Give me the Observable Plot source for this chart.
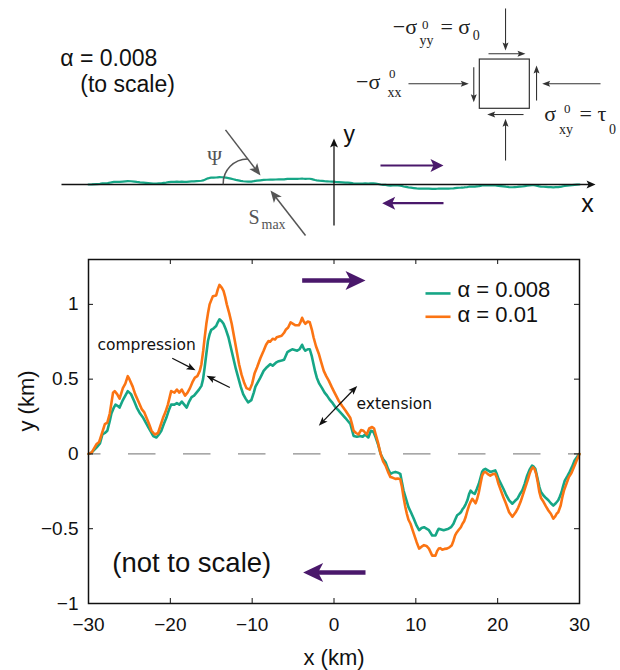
<!DOCTYPE html>
<html><head><meta charset="utf-8">
<script src="https://cdn.jsdelivr.net/npm/d3@7"></script>
<script src="https://cdn.jsdelivr.net/npm/@observablehq/plot@0.6"></script>
<style>body{margin:0;background:#fff} #chart svg{display:block}</style>
</head><body><div id="chart"></div>
<script>
const GREEN = "#16a686", ORANGE = "#fb7413", PURPLE = "#4a186b", GRAY = "#555", DARK = "#333";
const SANS = "Liberation Sans, Arial, Helvetica, sans-serif";
const SERIF = "Liberation Serif, Times New Roman, serif";
const ROUND = "DejaVu Sans, sans-serif";

// ---- data (km) ----
const xTicks = [-30, -20, -10, 0, 10, 20, 30];
const yTicks = [-1, -0.5, 0, 0.5, 1];
const seriesLabels = ["α = 0.008", "α = 0.01"];

const greenX = [-30,-29.6,-29,-28.6,-28.3,-28,-27.7,-27.4,-27.2,-26.9,-26.7,-26.4,-26.2,-25.8,-25.5,-25.2,-24.8,-24.4,-24.1,-23.7,-23.3,-23,-22.7,-22.4,-22.1,-21.7,-21.4,-21.1,-20.8,-20.5,-20.2,-19.9,-19.5,-19.2,-18.9,-18.6,-18.3,-18,-17.7,-17.4,-17.1,-16.8,-16.5,-16.2,-16,-15.8,-15.6,-15.4,-15.2,-15,-14.7,-14.4,-14.2,-14,-13.7,-13.5,-13.2,-12.9,-12.6,-12.3,-12,-11.7,-11.4,-11.1,-10.8,-10.5,-10.1,-9.8,-9.6,-9.4,-9,-8.6,-8.2,-7.8,-7.5,-7.1,-6.75,-6.4,-6.1,-5.7,-5.4,-5.1,-4.8,-4.5,-4.2,-3.9,-3.7,-3.5,-3.2,-2.96,-2.7,-2.5,-2.3,-2.1,-1.8,-1.46,-1.15,-0.85,-0.55,-0.24,0.2,0.58,1,1.4,1.7,2,2.2,2.4,2.8,3.2,3.5,3.8,4.2,4.5,4.8,5.1,5.4,5.7,6,6.3,6.6,6.9,7.2,7.5,7.8,8.1,8.3,8.5,8.8,9.1,9.4,9.75,10.1,10.4,10.7,11,11.3,11.6,12,12.4,12.6,12.8,13.1,13.4,13.7,14,14.3,14.6,14.8,15.05,15.3,15.5,15.7,15.9,16.1,16.3,16.5,16.7,16.95,17.2,17.45,17.7,17.9,18.1,18.3,18.5,18.8,19.1,19.4,19.7,19.9,20.1,20.4,20.7,21,21.4,21.8,22.1,22.4,22.7,23,23.3,23.6,23.9,24.2,24.4,24.6,24.85,25.1,25.3,25.6,25.9,26.2,26.5,26.8,27.1,27.4,27.6,27.8,28,28.2,28.5,28.8,29.1,29.4,29.7,30];
const greenY = [0,0.01,0.044,0.07,0.13,0.14,0.155,0.22,0.27,0.31,0.33,0.32,0.31,0.36,0.39,0.42,0.4,0.35,0.31,0.27,0.24,0.21,0.18,0.15,0.12,0.11,0.13,0.155,0.2,0.24,0.29,0.33,0.33,0.34,0.33,0.35,0.33,0.31,0.35,0.38,0.39,0.41,0.43,0.455,0.5,0.58,0.67,0.755,0.8,0.83,0.84,0.855,0.88,0.9,0.885,0.87,0.83,0.78,0.71,0.64,0.57,0.51,0.45,0.4,0.37,0.345,0.36,0.41,0.45,0.47,0.51,0.555,0.58,0.6,0.59,0.61,0.62,0.625,0.63,0.68,0.69,0.7,0.695,0.69,0.7,0.73,0.705,0.69,0.7,0.7,0.65,0.6,0.55,0.51,0.47,0.44,0.41,0.39,0.365,0.345,0.31,0.29,0.265,0.24,0.22,0.2,0.16,0.12,0.115,0.12,0.115,0.13,0.11,0.155,0.15,0.11,0.06,0,-0.035,-0.056,-0.1,-0.133,-0.125,-0.12,-0.125,-0.133,-0.19,-0.245,-0.3,-0.356,-0.39,-0.433,-0.48,-0.51,-0.495,-0.49,-0.5,-0.51,-0.545,-0.545,-0.52,-0.5,-0.505,-0.51,-0.505,-0.5,-0.49,-0.467,-0.44,-0.41,-0.4,-0.39,-0.37,-0.356,-0.335,-0.31,-0.27,-0.245,-0.26,-0.267,-0.235,-0.2,-0.16,-0.12,-0.105,-0.1,-0.11,-0.12,-0.115,-0.11,-0.135,-0.167,-0.2,-0.233,-0.27,-0.31,-0.333,-0.315,-0.3,-0.27,-0.245,-0.2,-0.145,-0.105,-0.078,-0.085,-0.1,-0.16,-0.222,-0.255,-0.278,-0.295,-0.31,-0.33,-0.345,-0.33,-0.31,-0.285,-0.256,-0.215,-0.178,-0.15,-0.12,-0.085,-0.044,-0.02,0];

const orangeX = [-30,-29.6,-29,-28.7,-28.4,-28,-27.7,-27.4,-27,-26.8,-26.5,-26.2,-25.8,-25.5,-25.2,-25,-24.6,-24.3,-23.9,-23.5,-23.2,-22.9,-22.6,-22.3,-21.9,-21.5,-21.2,-20.9,-20.6,-20.3,-19.9,-19.5,-19.2,-18.9,-18.6,-18.2,-17.9,-17.6,-17.3,-17,-16.7,-16.4,-16.2,-15.98,-15.8,-15.6,-15.4,-15.2,-14.8,-14.4,-14.2,-14,-13.7,-13.5,-13.3,-13.1,-12.8,-12.5,-12.2,-11.9,-11.6,-11.3,-11,-10.7,-10.3,-10,-9.7,-9.4,-9,-8.6,-8.3,-8,-7.8,-7.5,-7.2,-7,-6.7,-6.4,-6.1,-5.9,-5.6,-5.3,-5,-4.7,-4.3,-4.1,-3.9,-3.7,-3.5,-3.2,-2.96,-2.7,-2.5,-2.2,-1.86,-1.55,-1.25,-0.95,-0.64,-0.3,-0.03,0.3,0.58,1,1.4,1.7,2,2.2,2.4,2.7,3,3.3,3.6,4,4.3,4.66,4.9,5.1,5.4,5.7,6,6.3,6.6,6.9,7.2,7.5,7.8,8.1,8.3,8.5,8.7,8.9,9.1,9.35,9.75,10.1,10.4,10.7,11,11.3,11.6,12,12.4,12.6,12.8,13,13.2,13.5,13.8,14.1,14.4,14.6,14.8,15,15.2,15.5,15.7,15.9,16.1,16.3,16.5,16.7,16.9,17.1,17.3,17.5,17.7,17.9,18.1,18.3,18.5,18.8,19.1,19.4,19.7,19.9,20.1,20.4,20.7,21,21.4,21.8,22.2,22.5,22.8,23.1,23.4,23.7,23.9,24.1,24.3,24.5,24.7,24.9,25.1,25.3,25.6,25.9,26.2,26.5,26.8,27,27.2,27.4,27.7,27.9,28.1,28.4,28.7,29,29.3,29.6,30];
const orangeY = [0,0.01,0.067,0.08,0.13,0.2,0.21,0.27,0.41,0.42,0.4,0.37,0.44,0.47,0.52,0.5,0.45,0.4,0.35,0.3,0.28,0.24,0.2,0.155,0.13,0.14,0.19,0.24,0.28,0.33,0.42,0.41,0.43,0.41,0.43,0.39,0.41,0.44,0.48,0.51,0.52,0.555,0.6,0.69,0.78,0.87,0.94,1,1.055,1.06,1.1,1.13,1.11,1.09,1.05,1,0.94,0.87,0.78,0.69,0.6,0.53,0.48,0.44,0.43,0.47,0.54,0.58,0.64,0.69,0.73,0.755,0.75,0.77,0.765,0.78,0.785,0.79,0.81,0.83,0.845,0.88,0.87,0.86,0.86,0.88,0.91,0.885,0.87,0.885,0.88,0.83,0.78,0.72,0.67,0.61,0.555,0.52,0.49,0.45,0.42,0.385,0.355,0.32,0.29,0.265,0.24,0.2,0.155,0.14,0.13,0.16,0.155,0.13,0.17,0.18,0.17,0.13,0.07,0,-0.05,-0.078,-0.12,-0.155,-0.16,-0.167,-0.165,-0.17,-0.22,-0.29,-0.35,-0.4,-0.44,-0.467,-0.533,-0.59,-0.633,-0.62,-0.61,-0.615,-0.633,-0.68,-0.68,-0.65,-0.633,-0.63,-0.64,-0.635,-0.633,-0.625,-0.61,-0.58,-0.545,-0.525,-0.51,-0.49,-0.467,-0.45,-0.42,-0.38,-0.345,-0.32,-0.3,-0.315,-0.33,-0.3,-0.256,-0.2,-0.145,-0.125,-0.12,-0.135,-0.145,-0.135,-0.133,-0.16,-0.2,-0.245,-0.29,-0.33,-0.39,-0.42,-0.39,-0.36,-0.32,-0.27,-0.22,-0.17,-0.133,-0.105,-0.09,-0.1,-0.133,-0.19,-0.256,-0.295,-0.32,-0.35,-0.378,-0.4,-0.433,-0.42,-0.4,-0.39,-0.345,-0.29,-0.245,-0.2,-0.155,-0.13,-0.09,-0.05,0];

// ---- schematic (top panel, km at true scale) ----
const axesArrows = [
  {x1: -33.3, y1: 0, x2: 31.96, y2: 0},
  {x1: 0, y1: -5.01, x2: 0, y2: 5.62}
];
const stressArrows = [
  {x1: 20.96, y1: 21.51, x2: 20.96, y2: 16.37},
  {x1: 20.96, y1: 2.93, x2: 20.96, y2: 8.03},
  {x1: 9.10, y1: 12.31, x2: 16.47, y2: 12.31},
  {x1: 32.57, y1: 12.31, x2: 25.44, y2: 12.31},
  {x1: 18.88, y1: 15.97, x2: 23.40, y2: 15.97},
  {x1: 23.16, y1: 8.55, x2: 18.72, y2: 8.55},
  {x1: 17.08, y1: 14.33, x2: 17.08, y2: 10.06},
  {x1: 24.75, y1: 10.26, x2: 24.75, y2: 14.54}
];
const stressBox = [{x1: 17.82, x2: 23.93, y1: 9.25, y2: 15.27}];
const slipArrowsTop = [
  {x1: 5.68, y1: 2.32, x2: 13.38, y2: 2.32},
  {x1: 13.38, y1: -2.285, x2: 5.89, y2: -2.285}
];
const smaxArrows = [
  {x1: -13.26, y1: 6.68, x2: -8.98, y2: 1.10},
  {x1: -3.48, y1: -6.23, x2: -7.76, y2: -0.73}
];
const psiArc = [{x1: -13.54, y1: 0.09, x2: -10.57, y2: 3.12}];

const topSansLabels = [
  {t: "α = 0.008", x: -33.45, y: 14.54},
  {t: "(to scale)", x: -31.0, y: 11.36}
];
const serifMain = [
  {t: "−σ", x: 7.18, y: 18.42}, {t: "= σ", x: 13.01, y: 18.42},
  {t: "−σ", x: 2.70, y: 11.69},
  {t: "σ", x: 25.7, y: 7.82}, {t: "= τ", x: 30.0, y: 7.82}
];
const serifSup = [
  {t: "0", x: 10.75, y: 18.95}, {t: "0", x: 6.72, y: 12.96}, {t: "0", x: 28.1, y: 8.68}
];
const serifSub = [
  {t: "yy", x: 10.45, y: 16.99}, {t: "0", x: 16.95, y: 17.60},
  {t: "xx", x: 6.55, y: 10.64},
  {t: "xy", x: 27.5, y: 6.11}, {t: "0", x: 33.6, y: 6.23}
];

// ---- annotations in the main plot (data units) ----
const slipArrowsMain = [
  {x1: -3.89, y1: 1.16, x2: 3.85, y2: 1.16},
  {x1: 3.85, y1: -0.793, x2: -3.77, y2: -0.793}
];
const noteArrows = [
  {x1: -19.77, y1: 0.64, x2: -16.92, y2: 0.56},
  {x1: -12.73, y1: 0.444, x2: -15.58, y2: 0.522},
  {x1: 0.49, y1: 0.322, x2: 2.835, y2: 0.455},
  {x1: 0.49, y1: 0.322, x2: -1.857, y2: 0.189}
];
const notes = [
  {t: "compression", x: -28.9, y: 0.698},
  {t: "extension", x: 2.75, y: 0.303}
];

// ---- helpers ----
const W = 620, ML = 88, MR = 41;
const innerW = W - ML - MR;          // 491
const KX = innerW / 60;               // px per km in x
const TOP_H = 240, AXIS_PY = 184;
const MAIN_H = 430, MT = 19, MB = 67;
const innerH = MAIN_H - MT - MB;     // 344
const KY_MAIN = innerH / 2.3;

const green = greenX.map((x, i) => ({x, y: greenY[i]}));
const orange = orangeX.map((x, i) => ({x, y: orangeY[i]}));
const fmt = d => (d < 0 ? "\u2212" : "") + Math.abs(d);

function prep(arrows, kx, ky, cut) {
  return arrows.map(a => {
    const dx = (a.x2 - a.x1) * kx, dy = -(a.y2 - a.y1) * ky;
    const len = Math.hypot(dx, dy);
    return {...a, xe: a.x2 - dx / len * cut / kx, ye: a.y2 + dy / len * cut / ky,
            rot: Math.atan2(dx, -dy) * 180 / Math.PI};
  });
}
const head = (L, w, n) => ({draw(c) { c.moveTo(0, 0); c.lineTo(w, L); c.lineTo(0, n); c.lineTo(-w, L); c.closePath(); }});

function arrowMarks(arrows, kx, ky, {color, width, L, w, n, cut}) {
  const p = prep(arrows, kx, ky, cut);
  return [
    Plot.link(p, {x1: "x1", y1: "y1", x2: "xe", y2: "ye", stroke: color, strokeWidth: width}),
    Plot.dot(p, {x: "x2", y: "y2", rotate: "rot", symbol: head(L, w, n), fill: color, stroke: "none"})
  ];
}

function textMarks(rows, opts) {
  return Plot.text(rows, {x: "x", y: "y", text: "t", textAnchor: "start", lineAnchor: "bottom", ...opts});
}

// ---- top schematic ----
const topPlot = Plot.plot({
  width: W, height: TOP_H, marginLeft: ML, marginRight: MR, marginTop: 0, marginBottom: 0,
  style: {background: "white", overflow: "visible"},
  x: {domain: [-30, 30], axis: null},
  y: {domain: [(AXIS_PY - TOP_H) / KX, AXIS_PY / KX], axis: null},
  marks: [
    Plot.line(green, {x: "x", y: "y", stroke: GREEN, strokeWidth: 2.2, strokeLinejoin: "round"}),
    ...arrowMarks(axesArrows, KX, KX, {color: "#111", width: 1.3, L: 9, w: 4, n: 7, cut: 5}),
    ...arrowMarks(stressArrows, KX, KX, {color: DARK, width: 1.1, L: 8, w: 3, n: 6.5, cut: 5}),
    Plot.rect(stressBox, {x1: "x1", x2: "x2", y1: "y1", y2: "y2", fill: "none", stroke: DARK, strokeWidth: 1.2}),
    ...arrowMarks(slipArrowsTop, KX, KX, {color: PURPLE, width: 2.2, L: 13, w: 6.5, n: 10, cut: 8}),
    ...arrowMarks(smaxArrows, KX, KX, {color: GRAY, width: 1.5, L: 12, w: 5, n: 9, cut: 7}),
    Plot.arrow(psiArc, {x1: "x1", y1: "y1", x2: "x2", y2: "y2", bend: 45, headLength: 0, stroke: GRAY, strokeWidth: 1.5}),
    textMarks(topSansLabels, {fontSize: 23, fontFamily: SANS, fill: "#111"}),
    textMarks([{t: "y", x: 1.16, y: 5.25}], {fontSize: 23, fontFamily: SANS, fill: "#111"}),
    textMarks([{t: "x", x: 30.98, y: -3.42}], {fontSize: 25, fontFamily: SANS, fill: "#111", textAnchor: "middle"}),
    textMarks([{t: "Ψ", x: -14.6, y: 2.44}], {fontSize: 20, fontFamily: SERIF, fill: GRAY, textAnchor: "middle"}),
    textMarks([{t: "S", x: -10.45, y: -4.77}], {fontSize: 20, fontFamily: SERIF, fill: GRAY}),
    textMarks([{t: "max", x: -8.86, y: -5.38}], {fontSize: 14, fontFamily: SERIF, fill: GRAY}),
    textMarks(serifMain, {fontSize: 22, fontFamily: SERIF, fill: "#222"}),
    textMarks(serifSup, {fontSize: 13, fontFamily: SERIF, fill: "#222"}),
    textMarks(serifSub, {fontSize: 14, fontFamily: SERIF, fill: "#222"})
  ]
});

// ---- main plot ----
const T = 5;
const mainPlot = Plot.plot({
  width: W, height: MAIN_H, marginLeft: ML, marginRight: MR, marginTop: MT, marginBottom: MB,
  style: {background: "white", fontFamily: SANS, fontSize: "19px", color: "#111", overflow: "visible"},
  x: {domain: [-30, 30], ticks: xTicks, tickSize: 0, tickPadding: 14, tickFormat: fmt, label: null},
  y: {domain: [-1, 1.3], ticks: yTicks, tickSize: 0, tickPadding: 10, tickFormat: fmt, label: null},
  marks: [
    Plot.ruleY([0], {stroke: "#8c8c8c", strokeWidth: 1.2, strokeDasharray: "27.5,27.5", strokeDashoffset: 15}),
    Plot.line(green, {x: "x", y: "y", stroke: GREEN, strokeWidth: 2.6, strokeLinejoin: "round"}),
    Plot.line(orange, {x: "x", y: "y", stroke: ORANGE, strokeWidth: 2.6, strokeLinejoin: "round"}),
    Plot.frame({stroke: "#111", strokeWidth: 1.5}),
    Plot.ruleX(xTicks.slice(1, -1), {x: d => d, insetTop: innerH - T, stroke: "#111"}),
    Plot.ruleX(xTicks.slice(1, -1), {x: d => d, insetBottom: innerH - T, stroke: "#111"}),
    Plot.ruleY(yTicks.slice(1), {y: d => d, insetRight: innerW - T, stroke: "#111"}),
    Plot.ruleY(yTicks.slice(1), {y: d => d, insetLeft: innerW - T, stroke: "#111"}),
    ...arrowMarks(slipArrowsMain, KX, KY_MAIN, {color: PURPLE, width: 4.5, L: 20, w: 9.5, n: 15, cut: 12}),
    ...arrowMarks(noteArrows, KX, KY_MAIN, {color: "#111", width: 1.2, L: 9, w: 3.5, n: 7, cut: 5}),
    textMarks(notes, {fontSize: 15.5, fontFamily: ROUND, fill: "#111"}),
    textMarks([{t: "(not to scale)", x: -27.1, y: -0.787}], {fontSize: 27.5, fontFamily: SANS, fill: "#111"}),
    Plot.link([seriesLabels[0]], {x1: 11.18, x2: 14.24, y1: 1.073, y2: 1.073, stroke: GREEN, strokeWidth: 2.6}),
    Plot.link([seriesLabels[1]], {x1: 11.18, x2: 14.24, y1: 0.917, y2: 0.917, stroke: ORANGE, strokeWidth: 2.6}),
    Plot.text([seriesLabels[0]], {x: 15.09, y: 1.051, text: d => d, textAnchor: "start", lineAnchor: "bottom", fontSize: 22, fill: "#111"}),
    Plot.text([seriesLabels[1]], {x: 15.09, y: 0.882, text: d => d, textAnchor: "start", lineAnchor: "bottom", fontSize: 22, fill: "#111"}),
    Plot.text(["x (km)"], {frameAnchor: "bottom", dy: 61, lineAnchor: "bottom", fontSize: 22, fill: "#111"}),
    Plot.text(["y (km)"], {frameAnchor: "left", dx: -55, rotate: -90, lineAnchor: "bottom", fontSize: 22, fill: "#111"})
  ]
});

document.getElementById("chart").append(topPlot, mainPlot);
</script></body></html>
